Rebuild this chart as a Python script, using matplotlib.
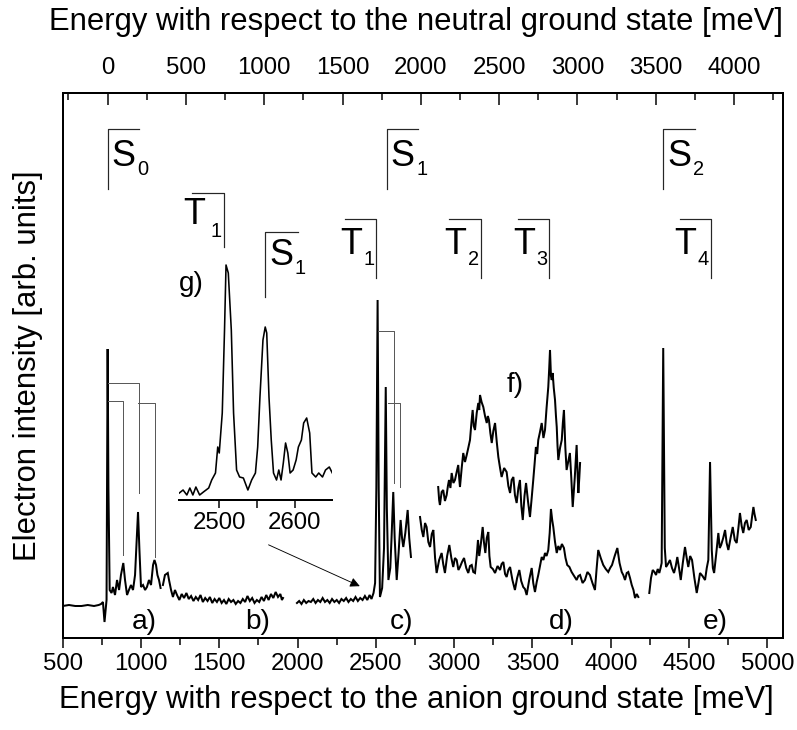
import numpy as np
import matplotlib
matplotlib.use("Agg")
import matplotlib.pyplot as plt

plt.rcParams['font.family'] = ['Liberation Sans', 'DejaVu Sans']

nan = np.nan
# electron affinity offset between the two energy scales (meV)
EA = 787

# ---- spectrum segments (energy wrt anion ground state [meV], intensity [arb.]) ----
ab_e = [500, 540, 580, 620, 660, 700, 730, 745, 757, 767, 780, 787, 792, 800, 812, 821, 834, 847, 860, 872,
        887, 898, 911, 923, 936, 949, 962, 971, 981, 990, 1000, 1013, 1026, 1038, 1051, 1064, 1077, 1086,
        1096, 1105, 1115, 1125, nan, 1140, 1153, 1171, 1179, 1192, 1204, 1217, 1230, 1245, 1260, 1275,
        1290, 1305, 1320, 1335, 1350, 1365, 1380, 1395, 1410, 1425, 1440, 1455, 1470, 1485, 1500, 1515,
        1530, 1545, 1560, 1575, 1590, 1605, 1620, 1635, 1650, 1665, 1680, 1695, 1710, 1725, 1740, 1755,
        1770, 1785, 1800, 1815, 1830, 1845, 1860, 1875, 1890, 1900, 1907]
ab_i = [32, 33, 32, 32, 33, 32, 33, 34, 36, 16, 38, 289, 150, 48, 45, 51, 43, 58, 48, 63,
        75, 58, 43, 48, 53, 48, 63, 93, 126, 88, 51, 53, 48, 51, 58, 53, 73, 78,
        73, 63, 58, 50, nan, 53, 63, 65, 58, 48, 41, 48, 43, 38, 44, 40,
        45, 39, 42, 37, 41, 38, 43, 36, 40, 37, 41, 35, 39, 36, 40, 35,
        38, 34, 39, 36, 38, 34, 37, 35, 39, 36, 42, 37, 40, 35, 38, 36,
        41, 37, 43, 38, 44, 40, 46, 41, 44, 38, 40]

c_e = [1996, 2010, 2025, 2040, 2055, 2070, 2085, 2100, 2115, 2130, 2145, 2160, 2175, 2190, 2205, 2220,
       2235, 2250, 2265, 2280, 2295, 2310, 2325, 2340, 2355, 2370, 2385, 2400, 2415, 2430, 2445, 2460,
       2472, 2485, 2495, 2503, 2511, 2518, 2526, 2540, 2552, 2563, 2570, 2580, 2592, 2600, 2611, 2620,
       2633, 2645, 2658, 2667, 2675, 2688, 2703, 2713, 2724]
c_i = [35, 37, 34, 38, 35, 37, 36, 39, 35, 38, 36, 40, 36, 38, 35, 39,
       36, 38, 35, 39, 37, 40, 36, 39, 37, 41, 37, 40, 38, 42, 38, 43,
       39, 45, 55, 150, 338, 150, 41, 50, 90, 251, 130, 58, 70, 100, 146, 100,
       58, 85, 118, 100, 91, 105, 128, 100, 81]

d_e = [2782, 2793, 2803, 2814, 2824, 2835, 2846, 2857, 2867, 2878, 2888, 2904, 2920, 2930, 2941, 2955,
       2969, 2982, 2994, 3005, 3016, 3027, 3037, 3050, 3063, 3077, 3090, 3101, 3112, 3122, 3133, 3144,
       3152, 3160, 3171, 3182, 3190, 3199, 3208, 3218, 3225, 3233, 3247, 3261, 3277, 3293, 3303, 3314,
       3325, 3335, 3346, 3357, 3372, 3388, 3402, 3416, 3428, 3441, 3452, 3463, 3479, 3495, 3505, 3516,
       3527, 3537, 3548, 3559, 3570, 3580, 3590, 3601, 3610, 3618, 3626, 3633, 3644, 3655, 3665, 3676,
       3688, 3701, 3711, 3722, 3736, 3750, 3766, 3782, 3793, 3804, 3820, 3835, 3851, 3867, 3883, 3899,
       3910, 3920, 3936, 3952, 3968, 3984, 3996, 4008, 4025, 4042, 4056, 4070, 4080, 4091, 4102, 4112,
       4123, 4134, 4145, 4155, 4166, 4176]
d_i = [121, 108, 101, 115, 111, 96, 91, 104, 108, 80, 65, 78, 85, 74, 65, 82,
       93, 80, 71, 80, 78, 68, 71, 76, 80, 70, 65, 72, 73, 66, 65, 82,
       98, 82, 95, 111, 96, 85, 100, 106, 82, 71, 69, 65, 72, 68, 74, 76,
       64, 61, 68, 71, 58, 48, 60, 68, 57, 51, 49, 43, 58, 70, 55, 46,
       56, 63, 72, 81, 78, 85, 82, 88, 105, 129, 118, 111, 96, 85, 92, 88,
       94, 90, 80, 73, 71, 66, 62, 58, 62, 63, 55, 58, 66, 63, 55, 48,
       70, 88, 80, 73, 69, 66, 70, 73, 82, 90, 75, 66, 63, 58, 65, 66,
       60, 53, 48, 40, 44, 41]

e_e = [4246, 4257, 4268, 4279, 4289, 4300, 4310, 4318, 4325, 4335, 4345, 4353, 4365, 4378, 4391, 4404,
       4415, 4425, 4436, 4447, 4460, 4474, 4485, 4495, 4507, 4519, 4534, 4549, 4560, 4570, 4586, 4602,
       4613, 4623, 4634, 4645, 4652, 4660, 4674, 4687, 4696, 4705, 4718, 4730, 4740, 4751, 4765, 4779,
       4792, 4804, 4815, 4825, 4836, 4846, 4857, 4868, 4881, 4894, 4903, 4911, 4918, 4926]
e_i = [45, 60, 68, 66, 63, 69, 65, 70, 75, 290, 90, 71, 74, 78, 70, 65,
       72, 81, 70, 58, 75, 91, 80, 71, 82, 78, 60, 45, 55, 65, 62, 58,
       70, 78, 176, 88, 70, 65, 85, 105, 90, 93, 100, 108, 95, 88, 100, 111,
       98, 95, 110, 125, 112, 105, 115, 118, 108, 111, 122, 131, 124, 118]

f_e = [2898, 2904, 2909, 2920, 2930, 2941, 2952, 2960, 2967, 2976, 2984, 2995, 3005, 3016, 3026, 3032,
       3037, 3048, 3058, 3069, 3080, 3090, 3101, 3110, 3118, 3125, 3133, 3144, 3154, 3160, 3165, 3175,
       3186, 3197, 3208, 3215, 3222, 3231, 3240, 3250, 3261, 3272, 3282, 3293, 3303, 3319, 3335, 3346,
       3357, 3367, 3378, 3388, 3399, 3410, 3420, 3429, 3438, 3449, 3459, 3472, 3484, 3495, 3505, 3514,
       3522, 3530, 3537, 3548, 3559, 3570, 3580, 3590, 3601, 3607, 3612, 3618, 3623, 3629, 3636, 3644,
       3650, 3655, 3660, 3665, 3676, 3687, 3694, 3701, 3710, 3718, 3728, 3739, 3748, 3757, 3770, 3782,
       3788, 3793, 3799, 3804]
f_i = [151, 138, 133, 146, 148, 137, 143, 152, 158, 150, 165, 155, 158, 166, 173, 160,
       151, 170, 185, 176, 183, 190, 198, 215, 228, 212, 208, 225, 235, 228, 243, 236,
       231, 222, 215, 222, 218, 205, 195, 207, 215, 196, 181, 170, 161, 170, 166, 152,
       145, 158, 161, 143, 135, 150, 158, 132, 118, 142, 155, 136, 121, 140, 158, 175,
       191, 184, 198, 206, 215, 200, 208, 230, 251, 270, 288, 262, 258, 265, 250, 238,
       222, 211, 192, 178, 190, 198, 215, 228, 190, 168, 176, 185, 160, 131, 160, 193,
       165, 145, 160, 175]

# ---- inset g) ----
g_e = [2447, 2452, 2457, 2461, 2465, 2469, 2474, 2479, 2486, 2490, 2495, 2498, 2500, 2504, 2507, 2509,
       2512, 2516, 2519, 2523, 2527, 2532, 2538, 2543, 2548, 2551, 2554, 2558, 2561, 2563, 2566, 2569,
       2572, 2576, 2579, 2582, 2585, 2588, 2591, 2594, 2598, 2602, 2605, 2609, 2612, 2616, 2620, 2623,
       2628, 2632, 2637, 2641, 2646, 2650]
g_i = [7, 10, 5, 12, 5, 13, 5, 8, 12, 20, 27, 53, 47, 87, 170, 235,
       227, 170, 87, 30, 23, 22, 10, 20, 27, 53, 103, 160, 173, 167, 103, 60,
       27, 20, 30, 20, 37, 57, 47, 27, 30, 40, 53, 60, 77, 82, 67, 27,
       23, 27, 23, 30, 33, 27]
g_ticks = [2500, 2550, 2600]
g_ticklabels = ["2500", "", "2600"]

# ---- state markers: (energy, kind, subscript) ----
states_main = [(787, "S", "0"), (2570, "S", "1"), (4335, "S", "2"),
               (2503, "T", "1"), (3169, "T", "2"), (3606, "T", "3"), (4640, "T", "4")]
S_LEVEL = (449, 509)
T_LEVEL = (360, 419)
MARK_W = 200

# vibrational progression brackets (start, end, level, drop-to)
prog = [(792, 987, 255, 145), (792, 887, 237, 83), (981, 1089, 235, 81),
        (2516, 2616, 307, 155), (2575, 2654, 235, 151)]

seg_labels = [(1020, "a)"), (1748, "b)"), (2661, "c)"), (3683, "d)"), (4666, "e)")]

bottom_ticks = [500, 1000, 1500, 2000, 2500, 3000, 3500, 4000, 4500, 5000]
top_ticks = [0, 500, 1000, 1500, 2000, 2500, 3000, 3500, 4000]

XMIN, XMAX = 500, 5098

LBL = 36   # state letter size
SUB = 20   # subscript size
TICK = 24
AXL = 31

W, H = 797, 730
fig = plt.figure(figsize=(W / 72, H / 72), dpi=72)
ax = fig.add_axes([62.7 / W, (H - 638) / H, 720 / W, 544.7 / H])
ax.set_xlim(XMIN, XMAX)
ax.set_ylim(0, 544.7)

lw = 2.0
for xe, yi in [(ab_e, ab_i), (c_e, c_i), (d_e, d_i), (e_e, e_i), (f_e, f_i)]:
    ax.plot(xe, yi, color='black', lw=lw, solid_joinstyle='miter')

# progression brackets
for x0, x1, lev, low in prog:
    ax.plot([x0, x1, x1], [lev, lev, low], color='0.35', lw=1.0)

# state markers
for E, kind, sub in states_main:
    if kind == "S":
        lo, hi = S_LEVEL
        ax.plot([E, E, E + MARK_W], [lo, hi, hi], color='0.15', lw=1.2)
        ax.annotate("S", (E, hi), xytext=(4, -10), textcoords='offset points',
                    ha='left', va='top', fontsize=LBL)
        ax.annotate(sub, (E, hi), xytext=(30, -50), textcoords='offset points',
                    ha='left', va='bottom', fontsize=SUB)
    else:
        lo, hi = T_LEVEL
        ax.plot([E - MARK_W, E, E], [hi, hi, lo], color='0.15', lw=1.2)
        ax.annotate("T", (E - MARK_W, hi), xytext=(-5, -8), textcoords='offset points',
                    ha='left', va='top', fontsize=LBL)
        ax.annotate(sub, (E, hi), xytext=(-2, -50), textcoords='offset points',
                    ha='right', va='bottom', fontsize=SUB)

for x, s in seg_labels:
    ax.text(x, 16, s, ha='center', va='center', fontsize=28)
ax.text(3388, 253, "f)", ha='center', va='center', fontsize=28)
ax.text(1319, 354, "g)", ha='center', va='center', fontsize=28)

ax.annotate('', xy=(2409, 51), xytext=(1803, 94),
            arrowprops=dict(arrowstyle='-|>', color='black', lw=0.9, mutation_scale=20))

# axes styling
for sp in ax.spines.values():
    sp.set_linewidth(2)
ax.set_yticks([])
ax.set_xticks(bottom_ticks)
ax.set_xticks(np.arange(750, 5000, 500), minor=True)
ax.tick_params(axis='x', which='major', direction='out', length=10, width=1.5, labelsize=TICK, pad=5)
ax.tick_params(axis='x', which='minor', direction='out', length=7, width=1.5)

ax2 = ax.twiny()
ax2.set_xlim(XMIN - EA, XMAX - EA)
ax2.set_xticks(top_ticks)
ax2.set_xticks(np.arange(-250, 4300, 500), minor=True)
ax2.tick_params(axis='x', which='major', direction='in', length=12, width=1.5, labelsize=TICK, pad=14)
ax2.tick_params(axis='x', which='minor', direction='in', length=7, width=1.5)
for sp in ax2.spines.values():
    sp.set_linewidth(2)

ax.set_ylabel("Electron intensity [arb. units]", fontsize=AXL)
ax.yaxis.set_label_coords(-0.027, 0.5)
fig.text(416 / W, 1 - 700 / H, "Energy with respect to the anion ground state [meV]",
         ha='center', va='center', fontsize=AXL)
fig.text(416 / W, 1 - 22 / H, "Energy with respect to the neutral ground state [meV]",
         ha='center', va='center', fontsize=AXL)

# inset
axi = fig.add_axes([179.3 / W, (H - 500) / H, 153 / W, 320 / H])
axi.patch.set_alpha(0)
axi.plot(g_e, g_i, color='black', lw=1.6)
axi.set_xlim(2447, 2650)
axi.set_ylim(0, 320)
for k in ['top', 'left', 'right']:
    axi.spines[k].set_visible(False)
axi.spines['bottom'].set_linewidth(2)
axi.set_yticks([])
axi.set_xticks(g_ticks)
axi.set_xticklabels(g_ticklabels)
axi.tick_params(axis='x', direction='out', length=8, width=1.5, labelsize=TICK, pad=4)

# inset markers
axi.plot([2464, 2506, 2506], [307, 307, 253], color='0.15', lw=1.2)
axi.annotate("T", (2464, 307), xytext=(-9, -4), textcoords='offset points',
             ha='left', va='top', fontsize=LBL)
axi.annotate("1", (2506, 307), xytext=(-2, -48), textcoords='offset points',
             ha='right', va='bottom', fontsize=SUB)
axi.plot([2561, 2561, 2605], [203, 268, 268], color='0.15', lw=1.2)
axi.annotate("S", (2561, 268), xytext=(4, -6), textcoords='offset points',
             ha='left', va='top', fontsize=LBL)
axi.annotate("1", (2561, 268), xytext=(29, -46), textcoords='offset points',
             ha='left', va='bottom', fontsize=SUB)

fig.savefig("out.png", dpi=72)
